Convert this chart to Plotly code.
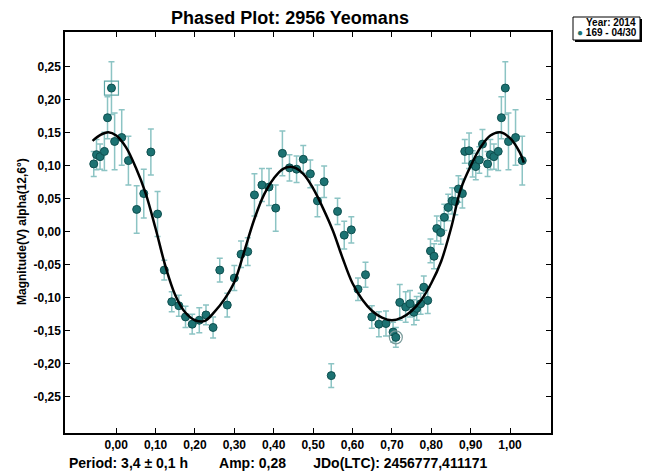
import numpy as np
import plotly.graph_objects as go

# phased observations (phase in 0..1), magnitude and error
phase = [0.014, 0.031, 0.052, 0.070, 0.088, 0.105, 0.122, 0.141, 0.159, 0.176,
         0.193, 0.211, 0.228, 0.246, 0.263, 0.282, 0.300, 0.317, 0.334, 0.351,
         0.370, 0.388, 0.405, 0.422, 0.440, 0.458, 0.475, 0.493, 0.511, 0.528,
         0.546, 0.562, 0.579, 0.597, 0.614, 0.633, 0.649, 0.667, 0.685, 0.703,
         0.710, 0.720, 0.735, 0.746, 0.756, 0.763, 0.773, 0.781, 0.791, 0.798,
         0.807, 0.814, 0.824, 0.833, 0.843, 0.853, 0.861, 0.869, 0.879, 0.885,
         0.896, 0.905, 0.913, 0.922, 0.930, 0.943, 0.950, 0.959, 0.970, 0.978,
         0.988, 0.996]
mag = [0.143, 0.108, 0.034, 0.058, 0.121, 0.027, -0.058, -0.106, -0.112, -0.129,
       -0.140, -0.134, -0.126, -0.145, -0.058, -0.111, -0.070, -0.034, -0.030, 0.056,
       0.071, 0.068, 0.036, 0.119, 0.097, 0.095, 0.110, 0.088, 0.047, 0.076,
       -0.218, 0.031, -0.005, 0.003, -0.087, -0.065, -0.129, -0.140, -0.139, -0.152,
       -0.160, -0.107, -0.114, -0.109, -0.122, -0.116, -0.109, -0.084, -0.104, -0.029,
       -0.037, 0.005, -0.001, 0.022, 0.037, 0.047, 0.046, 0.065, 0.058, 0.122,
       0.123, 0.103, 0.099, 0.109, 0.133, 0.103, 0.117, 0.114, 0.122, 0.173,
       0.218, 0.137]
err = [0.042, 0.037, 0.036, 0.037, 0.035, 0.034, 0.015, 0.015, 0.016, 0.016,
       0.015, 0.019, 0.015, 0.016, 0.018, 0.018, 0.019, 0.020, 0.021, 0.032,
       0.025, 0.028, 0.035, 0.034, 0.020, 0.020, 0.021, 0.021, 0.024, 0.024,
       0.018, 0.020, 0.021, 0.020, 0.017, 0.019, 0.017, 0.019, 0.019, 0.015,
       0.015, 0.027, 0.023, 0.020, 0.019, 0.018, 0.016, 0.017, 0.020, 0.018,
       0.019, 0.019, 0.018, 0.020, 0.020, 0.020, 0.020, 0.020, 0.022, 0.018,
       0.027, 0.020, 0.020, 0.020, 0.022, 0.019, 0.023, 0.019, 0.029, 0.032,
       0.040, 0.043]

# fitted lightcurve
fit_phase = [-0.06, -0.04, -0.02, 0.00, 0.025, 0.05, 0.075, 0.10, 0.125, 0.15,
             0.175, 0.20, 0.225, 0.25, 0.275, 0.30, 0.325, 0.35, 0.375, 0.40,
             0.425, 0.45, 0.475, 0.50, 0.525, 0.55, 0.575, 0.60, 0.625, 0.65,
             0.675, 0.70, 0.725, 0.75, 0.775, 0.80, 0.825, 0.85, 0.875, 0.90,
             0.925, 0.95, 0.975, 1.00, 1.025, 1.035]
fit_mag = [0.138, 0.147, 0.151, 0.146, 0.128, 0.097, 0.058, 0.005, -0.052, -0.096,
           -0.122, -0.134, -0.135, -0.121, -0.102, -0.076, -0.030, 0.018, 0.056, 0.081,
           0.096, 0.098, 0.088, 0.066, 0.036, 0.002, -0.040, -0.078, -0.103, -0.120,
           -0.130, -0.134, -0.130, -0.120, -0.103, -0.078, -0.045, 0.005, 0.065, 0.100,
           0.128, 0.146, 0.151, 0.142, 0.120, 0.105]

xticks = [0.0, 0.1, 0.2, 0.3, 0.4, 0.5, 0.6, 0.7, 0.8, 0.9, 1.0]
yticks = [0.25, 0.20, 0.15, 0.10, 0.05, 0.0, -0.05, -0.10, -0.15, -0.20, -0.25]

ph = np.array(phase)
mg = np.array(mag)
er = np.array(err)
left = ph >= 0.94
right = ph <= 0.035
x_all = np.concatenate([ph, ph[left] - 1, ph[right] + 1])
y_all = np.concatenate([mg, mg[left], mg[right]])
e_all = np.concatenate([er, er[left], er[right]])

FONT = "Liberation Sans Narrow, Liberation Sans, Arial"
TEAL = "#1c7272"

fig = go.Figure()
fig.add_trace(go.Scatter(
    x=x_all, y=y_all, mode="markers",
    error_y=dict(type="data", array=e_all, color="#8cc4c4", thickness=1.5, width=3),
    marker=dict(size=8, color=TEAL, line=dict(color="#0e4f4f", width=1)),
    showlegend=False))

# highlighted points: max (boxed, left copy) and min (circled)
imax = int(np.argmax(mg))
imin = int(np.argmin(np.where(np.abs(ph - 0.71) < 0.02, mg, 1)))
fig.add_trace(go.Scatter(
    x=[ph[imax] - 1], y=[mg[imax]], mode="markers",
    marker=dict(symbol="square-open", size=14, color="#5fa8a8", line=dict(width=1.2)),
    showlegend=False))
fig.add_trace(go.Scatter(
    x=[ph[imin]], y=[mg[imin]], mode="markers",
    marker=dict(symbol="circle-open", size=13, color="#7a9a9a", line=dict(width=1.2)),
    showlegend=False))

fig.add_trace(go.Scatter(
    x=fit_phase, y=fit_mag, mode="lines", line=dict(color="black", width=2.5, shape="spline"),
    showlegend=False))

axis_common = dict(showline=True, linecolor="black", linewidth=1.5, mirror="allticks",
                   ticks="inside", ticklen=5, tickcolor="black", showgrid=False,
                   zeroline=False, tickfont=dict(family=FONT, size=12, color="black", weight="bold"))

fig.update_xaxes(range=[-0.13, 1.104], tickvals=xticks,
                 ticktext=[f"{v:.2f}".replace(".", ",") for v in xticks], **axis_common)
fig.update_yaxes(range=[-0.305, 0.303], tickvals=yticks,
                 ticktext=[f"{v:.2f}".replace(".", ",") for v in yticks], **axis_common)

# the page body adds 8px around the figure
OFF = 8
W, H = 654 - OFF, 475 - OFF
L, R, T, B = 65 - OFF, 103, 32 - OFF, 42
pw, phh = W - L - R, H - T - B

def px(x):
    return (x - OFF - L) / pw

def py(y):
    return (H - B - (y - OFF)) / phh

fig.update_layout(
    width=W, height=H,
    margin=dict(l=L, r=R, t=T, b=B),
    plot_bgcolor="white", paper_bgcolor="white",
    title=dict(text="<b>Phased Plot: 2956 Yeomans</b>", x=px(290), xref="paper", xanchor="center",
               y=1 - (18 - OFF) / H, yref="container", yanchor="middle",
               font=dict(family="Liberation Sans, Arial", size=18, color="black")),
    shapes=[
        dict(type="rect", xref="paper", yref="paper", x0=px(575), x1=px(642),
             y0=py(42), y1=py(19), fillcolor="black", line=dict(width=0)),
        dict(type="rect", xref="paper", yref="paper", x0=px(573), x1=px(640),
             y0=py(40), y1=py(17), fillcolor="white", line=dict(color="black", width=1)),
    ],
    annotations=[
        dict(text="<b>Magnitude(V) alpha(12,6°)</b>", textangle=-90, xref="paper", yref="paper",
             x=px(22), y=py(232), showarrow=False, xanchor="center", yanchor="middle",
             font=dict(family=FONT, size=12, color="black")),
        dict(text="<b>Period: 3,4 ± 0,1 h" + "&nbsp;" * 8 + "Amp: 0,28" + "&nbsp;" * 7
             + "JDo(LTC): 2456777,411171</b>",
             xref="paper", yref="paper", x=px(67), y=py(463), showarrow=False,
             xanchor="left", yanchor="middle",
             font=dict(family=FONT, size=14, color="black")),
        dict(text="<b>Year: 2014</b>", xref="paper", yref="paper", x=px(638), y=py(23),
             showarrow=False, xanchor="right", yanchor="middle",
             font=dict(family=FONT, size=10, color="black")),
        dict(text=f"<span style='color:{TEAL}'>●</span><b> 169 - 04/30</b>", xref="paper", yref="paper",
             x=px(575), y=py(33), showarrow=False, xanchor="left", yanchor="middle",
             font=dict(family=FONT, size=10, color="black")),
    ],
)

fig.write_html("out.html")
